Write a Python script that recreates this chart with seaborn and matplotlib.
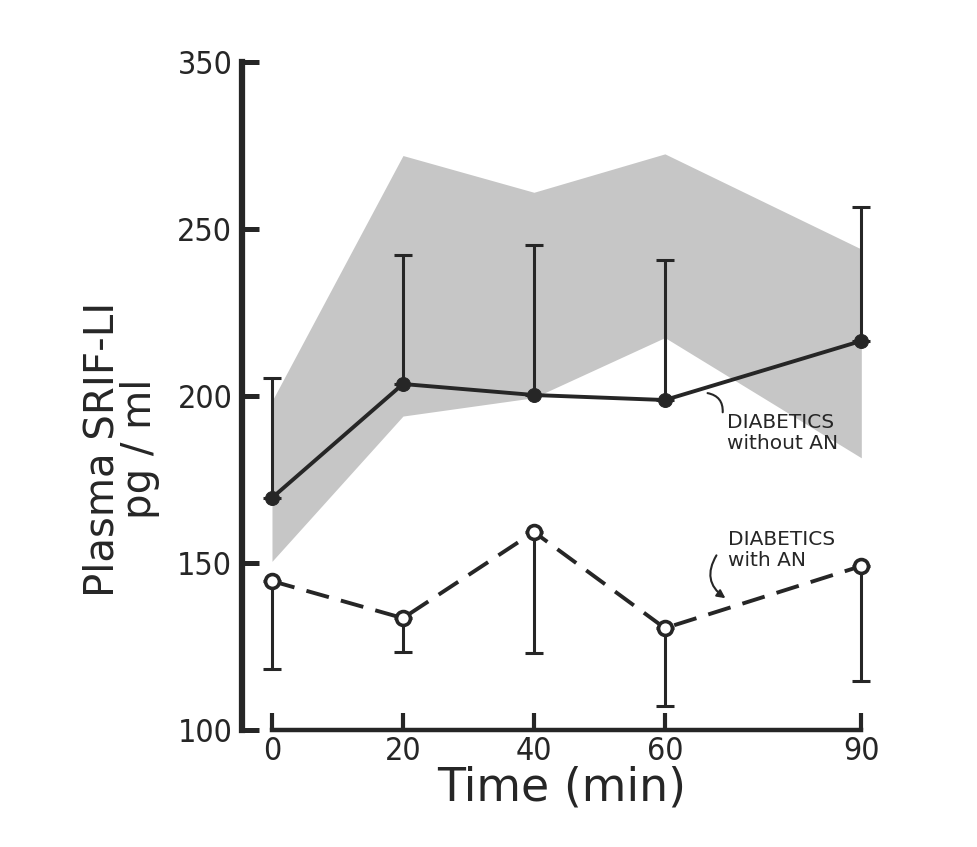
import numpy as np
import pandas as pd
import matplotlib
matplotlib.use("Agg")
import matplotlib.pyplot as plt
import seaborn as sns

# ---- data ----
time_min = [0, 20, 40, 60, 90]
without_an = [169.5, 203.6, 200.3, 198.8, 216.5]
without_an_upper = [205.4, 242.2, 245.2, 240.7, 256.6]
with_an = [144.6, 133.5, 159.3, 130.5, 149.1]
with_an_lower = [118.3, 123.4, 123.0, 107.2, 114.7]
band_lower = [150.5, 194.0, 199.5, 217.5, 181.5]
band_upper = [198.5, 272.0, 261.0, 272.5, 244.0]
y_ticks = [100, 150, 200, 250, 300]
y_tick_labels = ["100", "150", "200", "250", "350"]
x_ticks = [0, 20, 40, 60, 90]
x_tick_labels = ["0", "20", "40", "60", "90"]

df_without = pd.DataFrame({"time": time_min, "srif": without_an})
df_with = pd.DataFrame({"time": time_min, "srif": with_an})

sns.set_theme(style="white")
plt.rcParams["font.family"] = ["DejaVu Sans"]

ink = "#262626"
fig = plt.figure(figsize=(9.77, 8.47), dpi=100)
ax = fig.add_axes([0.2477, 0.1381, 0.6674, 0.8084])

# shaded range
ax.fill_between(time_min, band_lower, band_upper, color="#c6c6c6", lw=0, zorder=0)

# error bars
wa = np.array(without_an)
ax.errorbar(time_min, wa, yerr=[np.zeros(len(wa)), np.array(without_an_upper) - wa],
            fmt="none", ecolor=ink, elinewidth=2.2, capsize=6.5, capthick=2.2, zorder=2)
wn = np.array(with_an)
ax.errorbar(time_min, wn, yerr=[wn - np.array(with_an_lower), np.zeros(len(wn))],
            fmt="none", ecolor=ink, elinewidth=2.2, capsize=6.5, capthick=2.2, zorder=2)

# lines
sns.lineplot(data=df_without, x="time", y="srif", ax=ax, color=ink, linewidth=2.8,
             marker="o", markersize=10, markerfacecolor=ink, markeredgecolor=ink, zorder=3)
sns.lineplot(data=df_with, x="time", y="srif", ax=ax, color=ink, linewidth=2.8,
             marker="o", markersize=10, markerfacecolor="white", markeredgecolor=ink,
             markeredgewidth=2.6, zorder=3)
ax.lines[-1].set_dashes([6, 3.2])

# axes styling
ax.set_xlim(-4.58, 95)
ax.set_ylim(100, 305)
for s in ["top", "right"]:
    ax.spines[s].set_visible(False)
ax.spines["left"].set_bounds(100, 300)
ax.spines["bottom"].set_bounds(0, 90)
ax.spines["left"].set_linewidth(4.5)
ax.spines["bottom"].set_linewidth(3.2)
ax.spines["left"].set_color(ink)
ax.spines["bottom"].set_color(ink)

ax.set_yticks(y_ticks)
ax.set_yticklabels(y_tick_labels, fontsize=23, fontstretch="condensed", color=ink)
ax.set_xticks(x_ticks)
ax.set_xticklabels(x_tick_labels, fontsize=23, fontstretch="condensed", color=ink)
ax.tick_params(axis="y", direction="in", length=12, width=3.6, color=ink, pad=7, left=True)
ax.tick_params(axis="x", direction="in", length=12, width=3.0, color=ink, pad=4, bottom=True)

ax.set_xlabel("Time (min)", fontsize=33, color=ink)
ax.xaxis.set_label_coords(0.49, -0.052)
ax.set_ylabel("Plasma SRIF-LI\npg / ml", fontsize=29, color=ink, linespacing=0.95)
ax.yaxis.set_label_coords(-0.125, 0.41)

# annotations
ax.text(69.5, 195.0, "DIABETICS\nwithout AN", fontsize=14.5, color=ink, ha="left", va="top",
        linespacing=1.15)
ax.annotate("", xy=(66.1, 201.0), xytext=(68.8, 194.3),
            arrowprops=dict(arrowstyle="-", color=ink, lw=1.5,
                            connectionstyle="arc3,rad=0.5"))
ax.text(69.7, 160.0, "DIABETICS\nwith AN", fontsize=14.5, color=ink, ha="left", va="top",
        linespacing=1.15)
ax.annotate("", xy=(69.6, 139.0), xytext=(68.1, 153.0),
            arrowprops=dict(arrowstyle="-|>,head_length=0.4,head_width=0.2", color=ink, lw=1.5,
                            connectionstyle="arc3,rad=0.5"))

fig.savefig("out.png", dpi=100)
